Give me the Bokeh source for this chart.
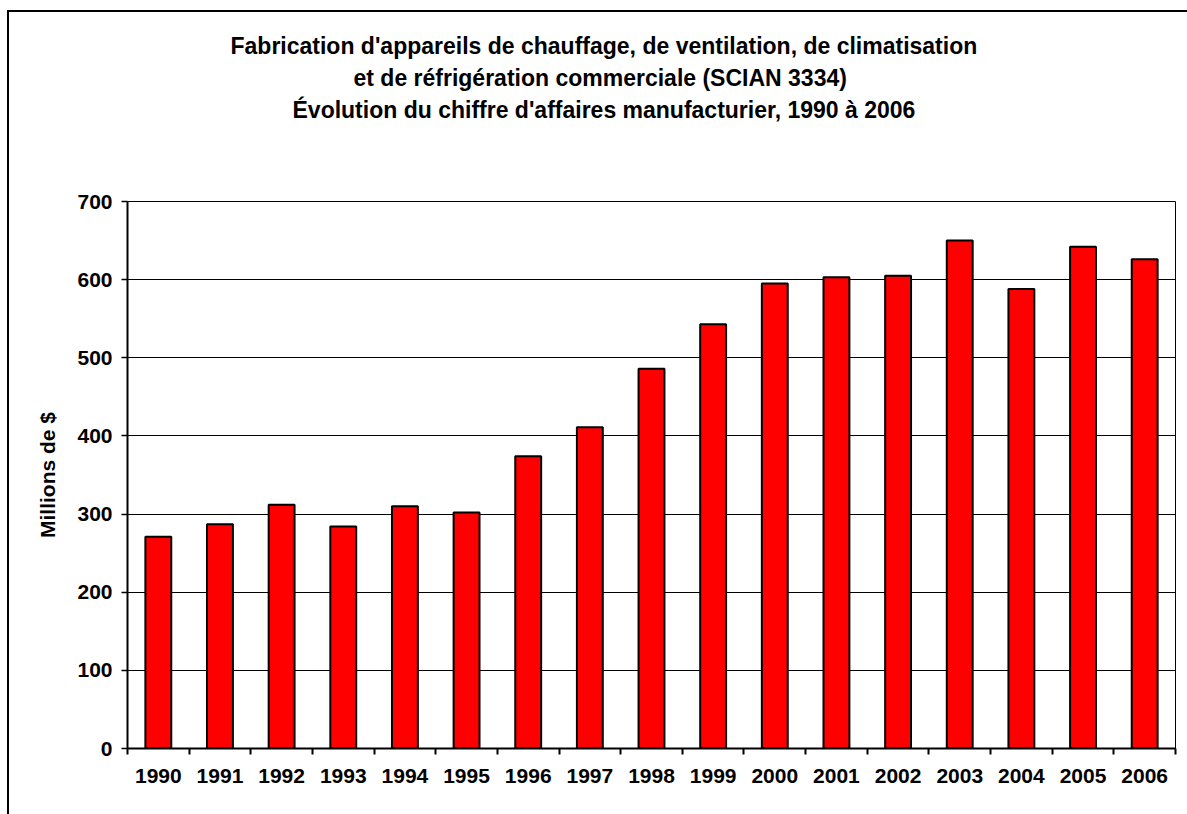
from bokeh.plotting import figure
from bokeh.models import (Range1d, FixedTicker, SingleIntervalTicker, Title,
                          ColumnDataSource, InlineStyleSheet)
from bokeh.embed import file_html
from bokeh.resources import INLINE

# ---- data ----
years = ["1990", "1991", "1992", "1993", "1994", "1995", "1996", "1997", "1998",
         "1999", "2000", "2001", "2002", "2003", "2004", "2005", "2006"]
values = [271, 287, 312, 284, 310, 302, 374, 411, 486,
          543, 595, 603, 605, 650, 588, 642, 626]
title_lines = [
    "Fabrication d'appareils de chauffage, de ventilation, de climatisation",
    "et de réfrigération commerciale (SCIAN 3334)",
    "Évolution du chiffre d'affaires manufacturier, 1990 à 2006",
]
title_offsets = [103, 226, 165]
y_label = "Millions de $"

FONT = "Liberation Sans"

centers = [i + 0.5 for i in range(len(years))]
bounds = list(range(len(years) + 1))
src = ColumnDataSource(dict(x=centers, top=values, year=years))

border_css = InlineStyleSheet(css="""
:host { position: relative; }
:host::after {
  content: ""; position: absolute; left: 7px; top: 10px;
  width: 2000px; height: 2000px; border: 2px solid black;
  pointer-events: none; box-sizing: border-box;
}
""")

p = figure(width=1187, height=814, output_backend="svg", toolbar_location=None,
           x_range=Range1d(0, len(years)), y_range=Range1d(0, 700),
           min_border_left=127, min_border_right=12, min_border_top=201,
           min_border_bottom=66, stylesheets=[border_css])
p.background_fill_color = "white"
p.border_fill_color = "white"
p.outline_line_color = "black"
p.outline_line_width = 1

p.vbar(x="x", top="top", width=0.42, source=src, fill_color="#FF0000",
       line_color="black", line_width=2)

# grid
p.xgrid.visible = False
p.ygrid.ticker = SingleIntervalTicker(interval=100)
p.ygrid.grid_line_color = "black"
p.ygrid.grid_line_width = 1

# y axis
ya = p.yaxis[0]
ya.ticker = SingleIntervalTicker(interval=100)
ya.axis_line_width = 2
ya.axis_line_color = "black"
ya.major_tick_in = 0
ya.major_tick_out = 6
ya.major_tick_line_width = 1.5
ya.minor_tick_line_color = None
ya.major_label_text_font = FONT
ya.major_label_text_font_style = "bold"
ya.major_label_text_font_size = "21px"
ya.major_label_text_color = "black"
ya.major_label_standoff = 9
ya.axis_label = y_label
ya.axis_label_text_font = FONT
ya.axis_label_text_font_style = "bold"
ya.axis_label_text_font_size = "21px"
ya.axis_label_text_color = "black"
ya.axis_label_standoff = 15

# x axis
xa = p.xaxis[0]
xa.ticker = FixedTicker(ticks=centers, minor_ticks=bounds)
xa.major_label_overrides = {c: y for c, y in zip(centers, years)}
xa.axis_line_width = 2
xa.axis_line_color = "black"
xa.major_tick_in = 0
xa.major_tick_out = 0
xa.minor_tick_in = 0
xa.minor_tick_out = 6
xa.minor_tick_line_width = 2
xa.minor_tick_line_color = "black"
xa.major_label_text_font = FONT
xa.major_label_text_font_style = "bold"
xa.major_label_text_font_size = "21px"
xa.major_label_text_color = "black"
xa.major_label_standoff = 14

# title lines: a spacer nearest the frame, then lines from bottom to top
p.add_layout(Title(text=" ", text_font_size="67px", standoff=0), "above")
for txt, off in reversed(list(zip(title_lines, title_offsets))):
    p.add_layout(Title(text=txt, align="left", offset=off, text_font=FONT,
                       text_font_style="bold", text_font_size="23px",
                       text_color="black", standoff=4), "above")

open("out.html", "w").write(file_html(p, INLINE))
